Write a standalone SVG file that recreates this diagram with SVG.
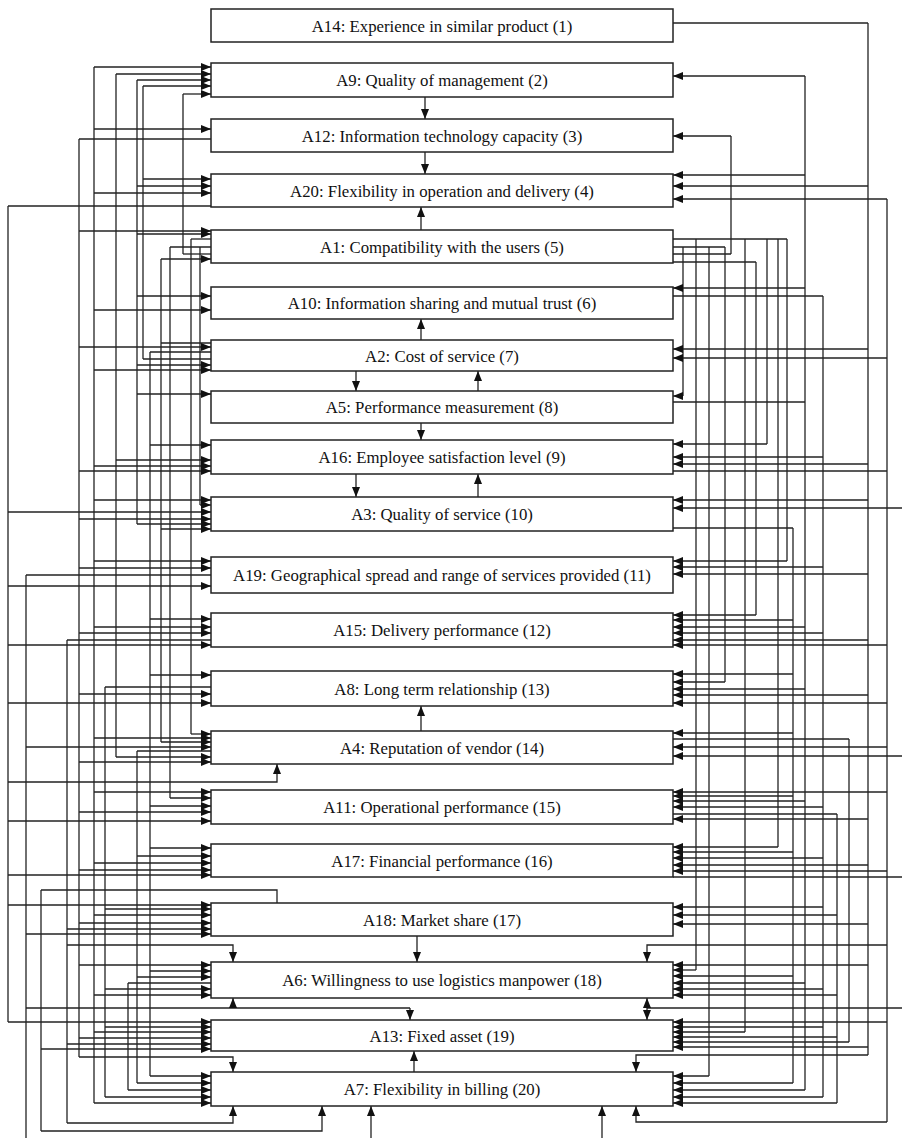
<svg xmlns="http://www.w3.org/2000/svg" width="902" height="1138" viewBox="0 0 902 1138">
<style>
.box{fill:#fff;stroke:#222;stroke-width:1.5}
.t{font-family:"Liberation Serif","Times New Roman",serif;font-size:16.8px;fill:#111;text-anchor:middle}
.c line,.c path{stroke:#222;stroke-width:1.3;fill:none}
.a{marker-end:url(#ah)}
</style>
<defs>
<marker id="ah" markerUnits="userSpaceOnUse" markerWidth="10" markerHeight="8" refX="10" refY="4" orient="auto">
<path d="M0,0 L10,4 L0,8 z" fill="#111"/>
</marker>
</defs>
<rect width="902" height="1138" fill="#fff"/>
<g class="c" id="connectors">
<!-- left verticals -->
<line x1="8" y1="206" x2="8" y2="1022"/>
<line x1="26" y1="575" x2="26" y2="1138"/>
<line x1="41" y1="890" x2="41" y2="1131"/>
<line x1="67" y1="640" x2="67" y2="1123"/>
<line x1="79" y1="139" x2="79" y2="1057"/>
<line x1="94" y1="67" x2="94" y2="1103"/>
<line x1="105" y1="687" x2="105" y2="1097"/>
<line x1="116" y1="74" x2="116" y2="757"/>
<line x1="128" y1="983" x2="128" y2="1090"/>
<line x1="137" y1="80" x2="137" y2="524"/>
<line x1="137" y1="751" x2="137" y2="1083"/>
<line x1="143" y1="86" x2="143" y2="359"/>
<line x1="150" y1="352" x2="150" y2="1076"/>
<line x1="161" y1="259" x2="161" y2="742"/>
<line x1="170" y1="247" x2="170" y2="798"/>
<line x1="183" y1="94" x2="183" y2="254"/>
<line x1="191" y1="239" x2="191" y2="734"/>
<line x1="200" y1="247" x2="200" y2="505"/>
<!-- left sources -->
<line x1="211" y1="139" x2="79" y2="139"/>
<line x1="211" y1="206" x2="8" y2="206"/>
<line x1="211" y1="239" x2="191" y2="239"/>
<line x1="211" y1="247" x2="170" y2="247"/>
<line x1="211" y1="254" x2="183" y2="254"/>
<line x1="211" y1="343" x2="161" y2="343"/>
<line x1="211" y1="352" x2="150" y2="352"/>
<line x1="211" y1="359" x2="143" y2="359"/>
<line x1="211" y1="575" x2="26" y2="575"/>
<line x1="211" y1="640" x2="67" y2="640"/>
<line x1="211" y1="687" x2="105" y2="687"/>
<line x1="211" y1="751" x2="137" y2="751"/>
<line x1="211" y1="983" x2="128" y2="983"/>
<!-- left arrows -->
<line class="a" x1="94" y1="67" x2="211" y2="67"/>
<line class="a" x1="116" y1="74" x2="211" y2="74"/>
<line class="a" x1="137" y1="80" x2="211" y2="80"/>
<line class="a" x1="143" y1="86" x2="211" y2="86"/>
<line class="a" x1="183" y1="94" x2="211" y2="94"/>
<line class="a" x1="94" y1="129" x2="211" y2="129"/>
<line class="a" x1="143" y1="179" x2="211" y2="179"/>
<line class="a" x1="137" y1="186" x2="211" y2="186"/>
<line class="a" x1="94" y1="193" x2="211" y2="193"/>
<line class="a" x1="79" y1="231" x2="211" y2="231"/>
<line class="a" x1="137" y1="234" x2="211" y2="234"/>
<line class="a" x1="161" y1="259" x2="211" y2="259"/>
<line class="a" x1="137" y1="296" x2="211" y2="296"/>
<line class="a" x1="94" y1="310" x2="211" y2="310"/>
<line class="a" x1="79" y1="347" x2="211" y2="347"/>
<line class="a" x1="137" y1="365" x2="211" y2="365"/>
<line class="a" x1="94" y1="370" x2="211" y2="370"/>
<line class="a" x1="137" y1="394" x2="211" y2="394"/>
<line class="a" x1="150" y1="445" x2="211" y2="445"/>
<line class="a" x1="116" y1="460" x2="211" y2="460"/>
<line class="a" x1="94" y1="466" x2="211" y2="466"/>
<line class="a" x1="79" y1="471" x2="211" y2="471"/>
<line class="a" x1="94" y1="500" x2="211" y2="500"/>
<line class="a" x1="200" y1="505" x2="211" y2="505"/>
<line class="a" x1="8" y1="512" x2="211" y2="512"/>
<line class="a" x1="79" y1="519" x2="211" y2="519"/>
<line class="a" x1="137" y1="524" x2="211" y2="524"/>
<line class="a" x1="161" y1="529" x2="211" y2="529"/>
<line class="a" x1="94" y1="561" x2="211" y2="561"/>
<line class="a" x1="79" y1="568" x2="211" y2="568"/>
<line class="a" x1="8" y1="586" x2="211" y2="586"/>
<line class="a" x1="150" y1="619" x2="211" y2="619"/>
<line class="a" x1="94" y1="627" x2="211" y2="627"/>
<line class="a" x1="79" y1="633" x2="211" y2="633"/>
<line class="a" x1="8" y1="645" x2="211" y2="645"/>
<line class="a" x1="150" y1="675" x2="211" y2="675"/>
<line class="a" x1="79" y1="694" x2="211" y2="694"/>
<line class="a" x1="8" y1="703" x2="211" y2="703"/>
<line class="a" x1="191" y1="734" x2="211" y2="734"/>
<line class="a" x1="94" y1="738" x2="211" y2="738"/>
<line class="a" x1="161" y1="742" x2="211" y2="742"/>
<line class="a" x1="26" y1="747" x2="211" y2="747"/>
<line class="a" x1="116" y1="757" x2="211" y2="757"/>
<line class="a" x1="79" y1="762" x2="211" y2="762"/>
<line class="a" x1="94" y1="792" x2="211" y2="792"/>
<line class="a" x1="170" y1="798" x2="211" y2="798"/>
<line class="a" x1="150" y1="806" x2="211" y2="806"/>
<line class="a" x1="79" y1="812" x2="211" y2="812"/>
<line class="a" x1="8" y1="821" x2="211" y2="821"/>
<line class="a" x1="150" y1="848" x2="211" y2="848"/>
<line class="a" x1="137" y1="856" x2="211" y2="856"/>
<line class="a" x1="94" y1="863" x2="211" y2="863"/>
<line class="a" x1="79" y1="870" x2="211" y2="870"/>
<line class="a" x1="8" y1="875" x2="211" y2="875"/>
<line class="a" x1="8" y1="905" x2="211" y2="905"/>
<line class="a" x1="105" y1="909" x2="211" y2="909"/>
<line class="a" x1="94" y1="915" x2="211" y2="915"/>
<line class="a" x1="79" y1="923" x2="211" y2="923"/>
<line class="a" x1="67" y1="929" x2="211" y2="929"/>
<line class="a" x1="26" y1="934" x2="211" y2="934"/>
<line class="a" x1="79" y1="965" x2="211" y2="965"/>
<line class="a" x1="150" y1="971" x2="211" y2="971"/>
<line class="a" x1="137" y1="977" x2="211" y2="977"/>
<line class="a" x1="105" y1="989" x2="211" y2="989"/>
<line class="a" x1="94" y1="995" x2="211" y2="995"/>
<line class="a" x1="8" y1="1022" x2="211" y2="1022"/>
<line class="a" x1="105" y1="1027" x2="211" y2="1027"/>
<line class="a" x1="94" y1="1032" x2="211" y2="1032"/>
<line class="a" x1="79" y1="1038" x2="211" y2="1038"/>
<line class="a" x1="67" y1="1044" x2="211" y2="1044"/>
<line class="a" x1="41" y1="1049" x2="211" y2="1049"/>
<line class="a" x1="150" y1="1076" x2="211" y2="1076"/>
<line class="a" x1="137" y1="1083" x2="211" y2="1083"/>
<line class="a" x1="128" y1="1090" x2="211" y2="1090"/>
<line class="a" x1="105" y1="1097" x2="211" y2="1097"/>
<line class="a" x1="94" y1="1103" x2="211" y2="1103"/>
<!-- left specials -->
<path class="a" d="M8,782 H277 V764"/>
<path d="M277,903 V890 H41"/>
<path class="a" d="M67,945 H233 V962"/>
<line x1="26" y1="1008" x2="410" y2="1008"/>
<line class="a" x1="233" y1="1008" x2="233" y2="998"/>
<line class="a" x1="410" y1="1008" x2="410" y2="1020"/>
<path class="a" d="M79,1057 H233 V1072"/>
<path class="a" d="M67,1123 H233 V1106"/>
<path class="a" d="M41,1131 H322 V1106"/>
<!-- middle -->
<line class="a" x1="425" y1="97" x2="425" y2="119"/>
<line class="a" x1="425" y1="152" x2="425" y2="174"/>
<line class="a" x1="421" y1="230" x2="421" y2="207"/>
<line class="a" x1="421" y1="340" x2="421" y2="319"/>
<line class="a" x1="356" y1="371" x2="356" y2="391"/>
<line class="a" x1="478" y1="391" x2="478" y2="371"/>
<line class="a" x1="421" y1="423" x2="421" y2="440"/>
<line class="a" x1="356" y1="474" x2="356" y2="497"/>
<line class="a" x1="478" y1="497" x2="478" y2="474"/>
<line class="a" x1="421" y1="731" x2="421" y2="706"/>
<line class="a" x1="417" y1="936" x2="417" y2="962"/>
<line class="a" x1="414" y1="1072" x2="414" y2="1051"/>
<line class="a" x1="371" y1="1138" x2="371" y2="1106"/>
<line class="a" x1="602" y1="1138" x2="602" y2="1106"/>
<!-- right verticals -->
<line x1="683" y1="247" x2="683" y2="396"/>
<line x1="696" y1="239" x2="696" y2="970"/>
<line x1="709" y1="247" x2="709" y2="1076"/>
<line x1="725" y1="247" x2="725" y2="682"/>
<line x1="731" y1="136" x2="731" y2="254"/>
<line x1="745" y1="239" x2="745" y2="1032"/>
<line x1="756" y1="262" x2="756" y2="615"/>
<line x1="767" y1="239" x2="767" y2="444"/>
<line x1="778" y1="239" x2="778" y2="847"/>
<line x1="787" y1="239" x2="787" y2="561"/>
<line x1="793" y1="528" x2="793" y2="1083"/>
<line x1="805" y1="76" x2="805" y2="1090"/>
<line x1="823" y1="296" x2="823" y2="1097"/>
<line x1="837" y1="814" x2="837" y2="1103"/>
<line x1="849" y1="739" x2="849" y2="1042"/>
<line x1="868" y1="23" x2="868" y2="1055"/>
<line x1="887" y1="199" x2="887" y2="1122"/>
<!-- right sources -->
<line x1="673" y1="23" x2="868" y2="23"/>
<line x1="673" y1="239" x2="787" y2="239"/>
<line x1="673" y1="247" x2="725" y2="247"/>
<line x1="673" y1="254" x2="731" y2="254"/>
<line x1="673" y1="262" x2="756" y2="262"/>
<line x1="673" y1="296" x2="823" y2="296"/>
<line x1="673" y1="402" x2="805" y2="402"/>
<line x1="673" y1="471" x2="887" y2="471"/>
<line x1="673" y1="528" x2="793" y2="528"/>
<line x1="673" y1="739" x2="849" y2="739"/>
<line x1="673" y1="814" x2="837" y2="814"/>
<line x1="673" y1="877" x2="902" y2="877"/>
<!-- right arrows -->
<line class="a" x1="805" y1="76" x2="673" y2="76"/>
<line class="a" x1="731" y1="136" x2="673" y2="136"/>
<line class="a" x1="805" y1="175" x2="673" y2="175"/>
<line class="a" x1="868" y1="186" x2="673" y2="186"/>
<line class="a" x1="887" y1="199" x2="673" y2="199"/>
<line class="a" x1="805" y1="288" x2="673" y2="288"/>
<line class="a" x1="868" y1="349" x2="673" y2="349"/>
<line class="a" x1="887" y1="358" x2="673" y2="358"/>
<line class="a" x1="683" y1="396" x2="673" y2="396"/>
<line class="a" x1="767" y1="444" x2="673" y2="444"/>
<line class="a" x1="823" y1="457" x2="673" y2="457"/>
<line class="a" x1="868" y1="464" x2="673" y2="464"/>
<line class="a" x1="868" y1="500" x2="673" y2="500"/>
<line class="a" x1="902" y1="508" x2="673" y2="508"/>
<line class="a" x1="787" y1="561" x2="673" y2="561"/>
<line class="a" x1="823" y1="567" x2="673" y2="567"/>
<line class="a" x1="868" y1="574" x2="673" y2="574"/>
<line class="a" x1="756" y1="615" x2="673" y2="615"/>
<line class="a" x1="793" y1="620" x2="673" y2="620"/>
<line class="a" x1="805" y1="627" x2="673" y2="627"/>
<line class="a" x1="823" y1="633" x2="673" y2="633"/>
<line class="a" x1="868" y1="640" x2="673" y2="640"/>
<line class="a" x1="887" y1="645" x2="673" y2="645"/>
<line class="a" x1="793" y1="674" x2="673" y2="674"/>
<line class="a" x1="725" y1="682" x2="673" y2="682"/>
<line class="a" x1="805" y1="689" x2="673" y2="689"/>
<line class="a" x1="868" y1="695" x2="673" y2="695"/>
<line class="a" x1="887" y1="703" x2="673" y2="703"/>
<line class="a" x1="793" y1="733" x2="673" y2="733"/>
<line class="a" x1="887" y1="747" x2="673" y2="747"/>
<line class="a" x1="902" y1="756" x2="673" y2="756"/>
<line class="a" x1="887" y1="792" x2="673" y2="792"/>
<line class="a" x1="793" y1="796" x2="673" y2="796"/>
<line class="a" x1="805" y1="801" x2="673" y2="801"/>
<line class="a" x1="823" y1="807" x2="673" y2="807"/>
<line class="a" x1="868" y1="819" x2="673" y2="819"/>
<line class="a" x1="778" y1="847" x2="673" y2="847"/>
<line class="a" x1="793" y1="852" x2="673" y2="852"/>
<line class="a" x1="823" y1="858" x2="673" y2="858"/>
<line class="a" x1="868" y1="865" x2="673" y2="865"/>
<line class="a" x1="887" y1="871" x2="673" y2="871"/>
<line class="a" x1="823" y1="907" x2="673" y2="907"/>
<line class="a" x1="837" y1="915" x2="673" y2="915"/>
<line class="a" x1="868" y1="924" x2="673" y2="924"/>
<line class="a" x1="868" y1="965" x2="673" y2="965"/>
<line class="a" x1="696" y1="970" x2="673" y2="970"/>
<line class="a" x1="793" y1="976" x2="673" y2="976"/>
<line class="a" x1="805" y1="983" x2="673" y2="983"/>
<line class="a" x1="823" y1="989" x2="673" y2="989"/>
<line class="a" x1="837" y1="995" x2="673" y2="995"/>
<line class="a" x1="887" y1="1022" x2="673" y2="1022"/>
<line class="a" x1="823" y1="1027" x2="673" y2="1027"/>
<line class="a" x1="745" y1="1032" x2="673" y2="1032"/>
<line class="a" x1="837" y1="1037" x2="673" y2="1037"/>
<line class="a" x1="849" y1="1042" x2="673" y2="1042"/>
<line class="a" x1="868" y1="1047" x2="673" y2="1047"/>
<line class="a" x1="709" y1="1076" x2="673" y2="1076"/>
<line class="a" x1="793" y1="1083" x2="673" y2="1083"/>
<line class="a" x1="805" y1="1090" x2="673" y2="1090"/>
<line class="a" x1="823" y1="1097" x2="673" y2="1097"/>
<line class="a" x1="837" y1="1103" x2="673" y2="1103"/>
<!-- right specials -->
<path class="a" d="M887,945 H647 V962"/>
<line x1="902" y1="1008" x2="647" y2="1008"/>
<line class="a" x1="647" y1="1008" x2="647" y2="998"/>
<line class="a" x1="647" y1="1008" x2="647" y2="1020"/>
<path class="a" d="M868,1055 H636 V1072"/>
<path class="a" d="M887,1122 H636 V1106"/>
</g>
<g id="n1"><rect class="box" x="211" y="9" width="462" height="33"/><text class="t" x="442" y="31.5">A14: Experience in similar product (1)</text></g>
<g id="n2"><rect class="box" x="211" y="63" width="462" height="34"/><text class="t" x="442" y="86">A9: Quality of management (2)</text></g>
<g id="n3"><rect class="box" x="211" y="119" width="462" height="33"/><text class="t" x="442" y="141.5">A12: Information technology capacity (3)</text></g>
<g id="n4"><rect class="box" x="211" y="174" width="462" height="33"/><text class="t" x="442" y="196.5">A20: Flexibility in operation and delivery (4)</text></g>
<g id="n5"><rect class="box" x="211" y="230" width="462" height="33"/><text class="t" x="442" y="252.5">A1: Compatibility with the users (5)</text></g>
<g id="n6"><rect class="box" x="211" y="287" width="462" height="32"/><text class="t" x="442" y="309">A10: Information sharing and mutual trust (6)</text></g>
<g id="n7"><rect class="box" x="211" y="340" width="462" height="31"/><text class="t" x="442" y="361.5">A2: Cost of service (7)</text></g>
<g id="n8"><rect class="box" x="211" y="391" width="462" height="32"/><text class="t" x="442" y="413">A5: Performance measurement (8)</text></g>
<g id="n9"><rect class="box" x="211" y="440" width="462" height="34"/><text class="t" x="442" y="463">A16: Employee satisfaction level (9)</text></g>
<g id="n10"><rect class="box" x="211" y="497" width="462" height="34"/><text class="t" x="442" y="520">A3: Quality of service (10)</text></g>
<g id="n11"><rect class="box" x="211" y="557" width="462" height="36"/><text class="t" x="442" y="581">A19: Geographical spread and range of services provided (11)</text></g>
<g id="n12"><rect class="box" x="211" y="613" width="462" height="34"/><text class="t" x="442" y="636">A15: Delivery performance (12)</text></g>
<g id="n13"><rect class="box" x="211" y="671" width="462" height="35"/><text class="t" x="442" y="694.5">A8: Long term relationship (13)</text></g>
<g id="n14"><rect class="box" x="211" y="731" width="462" height="33"/><text class="t" x="442" y="753.5">A4: Reputation of vendor (14)</text></g>
<g id="n15"><rect class="box" x="211" y="790" width="462" height="34"/><text class="t" x="442" y="813">A11: Operational performance (15)</text></g>
<g id="n16"><rect class="box" x="211" y="844" width="462" height="33"/><text class="t" x="442" y="866.5">A17: Financial performance (16)</text></g>
<g id="n17"><rect class="box" x="211" y="903" width="462" height="33"/><text class="t" x="442" y="925.5">A18: Market share (17)</text></g>
<g id="n18"><rect class="box" x="211" y="962" width="462" height="36"/><text class="t" x="442" y="986">A6: Willingness to use logistics manpower (18)</text></g>
<g id="n19"><rect class="box" x="211" y="1020" width="462" height="31"/><text class="t" x="442" y="1041.5">A13: Fixed asset (19)</text></g>
<g id="n20"><rect class="box" x="211" y="1072" width="462" height="34"/><text class="t" x="442" y="1095">A7: Flexibility in billing (20)</text></g>
</svg>
